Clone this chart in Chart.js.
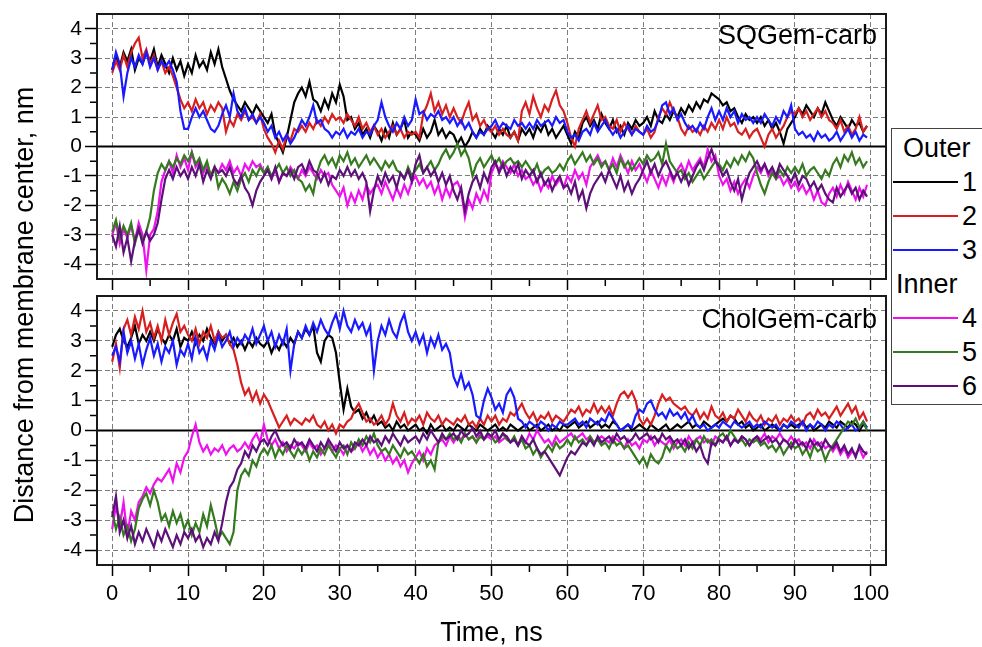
<!DOCTYPE html>
<html><head><meta charset="utf-8">
<script src="https://cdn.jsdelivr.net/npm/chart.js@4.4.1/dist/chart.umd.min.js"></script>
<style>
html,body{margin:0;padding:0;background:#fff;}
body{width:982px;height:647px;overflow:hidden;position:relative;font-family:"Liberation Sans",Arial,sans-serif;color:#000;}
#c1{position:absolute;left:0;top:0;}
#c2{position:absolute;left:0;top:292px;}
#ytitle{position:absolute;left:-276px;top:289px;width:600px;height:32px;line-height:32px;text-align:center;font-size:27px;transform:rotate(-90deg);white-space:nowrap;}
#legend{position:absolute;left:891px;top:128px;width:120px;height:277px;border:1.5px solid #444;box-sizing:border-box;background:#fff;}
.lg-h{position:absolute;font-size:27px;line-height:30px;white-space:nowrap;}
.lg-line{position:absolute;left:1px;width:65px;height:2px;}
.lg-num{position:absolute;left:70px;font-size:27px;line-height:30px;}
</style></head>
<body>
<canvas id="c1" width="982" height="292"></canvas>
<canvas id="c2" width="982" height="355"></canvas>
<div id="ytitle">Distance from membrane center, nm</div>
<div id="legend"></div>
<script>
// ---------- data ----------
const TIME_STEP = 0.5;            // ns between samples
const X_MIN = -2, X_MAX = 102;
const Y_MIN = -4.5, Y_MAX = 4.5;
const xTickValues = [0,10,20,30,40,50,60,70,80,90,100];
const xMinorTicks = [5,15,25,35,45,55,65,75,85,95];
const yTickValues = [-4,-3,-2,-1,0,1,2,3,4];
const yMinorTicks = [-3.5,-2.5,-1.5,-0.5,0.5,1.5,2.5,3.5];
const xTitle = 'Time, ns';
const yTitle = 'Distance from membrane center, nm';
const panelLabels = ['SQGem-carb','CholGem-carb'];
const seriesNames = ['1','2','3','4','5','6'];
const seriesColors = ['#000000','#d81f1f','#1a1aff','#ee11ee','#357a1f','#5c1078'];
const legendGroups = [['Outer',[0,1,2]],['Inner',[3,4,5]]];

// SQGem-carb panel
const topOuter1 = [
2.6,3.1,2.7,3.2,2.9,3.3,2.6,3.0,2.8,3.2,
2.9,3.3,2.7,3.1,2.8,2.5,3.0,2.6,2.9,2.4,
2.8,2.5,3.1,2.7,2.9,2.6,3.2,2.8,3.3,2.7,
2.3,1.9,1.6,1.4,1.2,1.5,1.3,1.1,1.4,1.2,
1.0,0.8,1.1,0.4,0.1,-0.2,0.3,0.9,1.5,1.8,
2.0,1.7,2.2,1.6,1.5,1.2,1.6,1.3,1.8,1.5,
2.1,1.7,0.9,1.0,0.6,0.8,0.4,0.6,0.3,0.7,
0.5,0.2,0.6,0.3,0.8,0.4,0.6,0.9,0.3,0.5,
0.4,0.2,0.6,0.3,0.5,0.9,0.4,0.6,0.3,0.5,
0.4,0.1,0.3,0.0,0.2,0.5,0.3,0.6,0.4,0.7,
0.5,0.3,0.6,0.4,0.7,0.3,0.5,0.2,0.6,0.4,
0.6,0.3,0.7,0.5,0.8,0.4,0.6,0.3,0.5,0.7,
0.4,0.1,0.5,0.3,0.8,1.0,0.7,0.9,0.6,1.1,
0.8,0.6,0.9,0.5,0.7,0.4,0.8,0.6,0.9,0.7,
0.8,1.0,0.7,1.2,0.9,0.8,1.1,0.9,1.2,1.0,
1.3,1.1,1.4,1.2,1.5,1.3,1.6,1.5,1.8,1.7,
1.6,1.4,1.5,1.2,1.3,1.0,0.8,1.1,0.9,1.0,
0.8,1.0,0.7,0.9,0.6,0.8,0.5,0.1,0.6,0.8,
1.0,1.3,1.1,1.4,1.2,1.0,1.3,1.1,1.5,1.2,
0.9,0.7,1.0,0.8,0.6,0.9,0.7,0.8,0.5,0.7];
const topOuter2 = [
2.5,2.9,2.6,3.1,2.7,3.2,3.5,3.7,3.0,3.3,
2.8,3.1,2.6,2.9,2.5,2.7,2.4,2.0,1.6,1.3,
1.5,1.2,1.6,1.3,1.5,1.1,1.4,1.2,1.5,1.3,
0.5,0.9,0.7,1.1,0.9,1.2,0.9,1.0,0.8,1.1,
0.6,0.3,0.1,-0.2,0.2,-0.1,0.4,0.2,0.6,0.5,
0.7,0.5,0.8,0.6,0.9,0.7,1.0,0.8,1.1,0.9,
1.0,0.8,1.1,0.9,0.7,1.0,0.6,0.8,0.5,0.7,
0.4,0.6,0.3,0.5,0.7,0.4,0.6,0.3,0.5,0.4,
0.5,0.3,1.1,1.4,1.8,1.2,1.5,1.1,1.4,1.0,
1.3,1.0,0.8,1.2,1.5,0.9,1.1,0.7,0.9,0.6,
0.5,0.7,0.4,0.6,0.4,0.3,0.5,0.2,1.2,1.5,
1.1,1.7,1.3,1.0,1.4,1.2,1.6,1.9,1.4,1.2,
0.8,0.3,0.0,0.6,0.9,1.2,0.8,1.1,1.4,0.9,
1.0,0.7,0.6,0.9,0.5,0.8,0.6,0.4,0.7,0.5,
0.4,0.6,0.3,0.5,1.0,1.3,1.1,1.5,1.2,1.0,
0.6,0.4,0.7,0.5,0.6,0.4,0.7,0.5,0.8,0.6,
0.9,0.6,1.0,0.7,0.8,0.5,0.4,0.6,0.3,0.5,
0.6,0.3,0.0,0.4,0.6,0.3,0.5,0.7,1.0,1.2,
1.1,1.3,1.0,1.2,0.9,1.1,1.3,1.0,1.2,0.9,
0.8,0.6,0.9,0.5,0.7,0.4,0.6,1.0,0.5,0.7];
const topOuter3 = [
2.6,3.2,2.8,1.7,2.5,3.0,2.7,3.1,2.8,3.2,
2.7,3.0,2.6,2.9,2.7,2.9,2.6,2.2,1.2,0.6,
0.6,1.0,1.3,1.0,1.2,0.9,0.6,0.5,0.7,1.1,
1.4,1.0,1.8,1.2,1.0,1.3,0.9,1.1,0.8,1.0,
0.8,0.5,0.7,0.3,0.5,0.2,0.4,0.1,0.3,0.6,
0.9,0.7,1.0,1.4,0.8,0.9,0.6,0.5,0.3,0.5,
0.4,0.6,0.3,0.5,0.4,0.6,0.3,0.5,0.4,0.7,
0.9,1.5,1.0,0.7,0.5,0.8,0.6,1.0,0.7,0.9,
1.6,1.1,1.2,0.9,1.1,1.0,1.2,0.9,1.0,0.8,
1.0,0.7,0.9,0.6,0.8,0.5,0.3,0.5,0.4,0.6,
0.7,0.9,0.6,0.8,0.7,0.6,0.9,0.7,0.8,0.6,
0.8,0.6,0.9,0.7,0.8,0.9,0.7,1.0,0.8,0.9,
0.5,0.3,0.4,0.2,0.5,0.6,0.4,0.8,0.5,0.7,
0.9,0.6,0.4,0.6,0.3,0.5,0.7,0.4,0.6,0.5,
0.4,0.7,0.5,0.6,0.9,1.4,1.5,1.1,1.3,0.9,
1.1,0.8,0.6,0.7,0.5,0.8,0.6,1.0,1.3,0.9,
1.2,0.9,1.3,1.0,1.2,0.8,1.1,0.9,1.0,0.8,
1.0,0.8,1.1,0.9,0.7,1.0,0.8,1.2,1.0,1.4,
0.6,0.4,0.5,0.3,0.4,0.2,0.5,0.3,0.4,0.2,
0.3,0.5,0.2,0.4,0.6,0.3,0.5,0.2,0.4,0.3];
const topInner4 = [
-3.0,-2.6,-3.3,-2.8,-3.1,-2.7,-3.2,-2.6,-3.0,-4.2,
-3.0,-2.8,-2.2,-1.2,-0.8,-0.5,-0.9,-0.3,-0.7,-0.4,
-0.8,-0.2,-0.7,-0.5,-0.9,-0.6,-1.0,-0.7,-0.9,-0.6,
-0.8,-0.5,-0.9,-0.7,-1.0,-0.6,-0.8,-0.5,-0.7,-0.6,
-0.9,-0.7,-1.1,-0.8,-1.2,-0.9,-1.0,-0.7,-0.9,-1.1,
-0.8,-1.0,-0.7,-0.9,-1.1,-0.8,-1.0,-0.9,-1.3,-1.5,
-1.7,-1.4,-2.0,-1.6,-1.9,-1.5,-1.8,-1.3,-1.6,-1.4,
-1.3,-1.6,-1.2,-1.5,-1.8,-1.4,-1.7,-1.3,-1.6,-1.2,
-1.0,-1.3,-1.1,-1.4,-1.2,-1.6,-1.3,-1.8,-1.4,-1.7,
-1.3,-1.2,-1.5,-2.4,-1.8,-2.1,-1.6,-1.9,-1.5,-1.8,
-0.9,-0.6,-0.8,-0.5,-0.7,-0.9,-0.6,-1.0,-0.8,-1.1,
-1.0,-1.3,-1.1,-1.5,-1.2,-1.4,-1.0,-1.3,-1.1,-1.4,
-1.0,-1.2,-0.8,-1.1,-0.9,-1.3,-0.7,-0.5,-0.3,-0.6,
-0.5,-0.8,-0.4,-0.7,-0.3,-0.6,-0.9,-0.5,-0.8,-0.6,
-0.9,-1.2,-0.8,-1.1,-1.4,-1.0,-1.3,-0.9,-1.2,-0.8,
-0.6,-0.9,-0.5,-0.8,-0.6,-0.4,-0.7,-0.1,-0.5,-0.3,
-1.0,-1.3,-1.1,-1.5,-1.2,-1.6,-1.3,-1.1,-1.4,-1.0,
-0.7,-0.9,-0.6,-1.0,-0.8,-1.1,-1.0,-1.3,-1.1,-1.4,
-1.2,-1.5,-1.3,-1.6,-1.4,-1.8,-1.5,-1.9,-2.0,-1.6,
-1.4,-1.7,-1.3,-1.6,-1.2,-1.5,-1.8,-1.4,-1.7,-1.3];
const topInner5 = [
-2.9,-2.5,-3.1,-2.7,-3.0,-2.6,-3.3,-2.8,-3.2,-2.9,
-2.4,-1.5,-0.9,-0.6,-0.8,-0.5,-0.7,-0.4,-0.6,-0.3,
-0.5,-0.2,-0.6,-0.4,-0.8,-0.5,-1.0,-0.7,-1.4,-1.1,
-1.3,-1.6,-1.2,-1.5,-1.1,-0.9,-1.2,-0.8,-1.0,-0.7,
-0.9,-0.7,-1.0,-0.8,-0.6,-0.9,-0.7,-1.0,-0.8,-1.1,
-1.2,-1.5,-1.3,-1.6,-0.9,-0.5,-0.3,-0.6,-0.4,-0.7,
-0.3,-0.5,-0.2,-0.6,-0.4,-0.7,-0.5,-0.3,-0.6,-0.4,
-0.6,-0.8,-0.5,-0.7,-0.5,-0.8,-0.9,-1.1,-0.7,-1.0,
-0.8,-0.6,-0.9,-0.7,-0.5,-0.8,-0.6,-0.3,-0.1,-0.4,
-0.2,0.1,-0.3,-0.1,-0.4,-1.0,-0.6,-0.4,-0.7,-0.5,
-0.3,-0.6,-0.4,-0.7,-0.5,-0.4,-0.6,-0.5,-0.7,-0.5,
-0.7,-0.9,-0.6,-1.0,-0.8,-0.7,-0.9,-0.8,-0.6,-0.8,
-0.5,-0.3,-0.6,-0.4,-0.2,-0.5,-0.3,-0.6,-0.4,-0.7,
-0.5,-0.8,-0.6,-0.9,-0.4,-0.7,-0.5,-0.8,-0.6,-0.4,
-0.6,-0.3,-0.5,-0.4,-0.2,-0.6,0.1,-0.5,-0.7,-0.9,
-0.8,-1.1,-0.9,-1.2,-1.0,-0.8,-1.1,-0.9,-0.7,-0.5,
-0.6,-0.8,-0.5,-0.7,-0.4,-0.6,-0.3,-0.5,-0.2,-0.4,
-0.9,-1.3,-1.6,-1.2,-0.9,-1.1,-0.8,-1.0,-0.7,-0.9,
-0.7,-0.9,-0.6,-1.0,-0.8,-0.7,-0.9,-1.1,-0.8,-1.0,
-0.6,-0.4,-0.7,-0.3,-0.5,-0.2,-0.6,-0.4,-0.7,-0.5];
const topInner6 = [
-3.0,-3.4,-2.7,-3.6,-3.1,-3.9,-3.2,-2.8,-3.3,-2.9,
-3.2,-3.0,-2.6,-1.8,-1.1,-0.8,-1.1,-0.7,-1.0,-0.8,
-1.1,-0.7,-1.0,-0.6,-1.2,-0.8,-1.1,-0.7,-0.9,-0.8,
-1.0,-0.7,-1.1,-1.3,-1.0,-1.4,-1.6,-2.0,-1.5,-1.2,
-1.0,-0.8,-1.1,-0.7,-1.2,-0.9,-1.0,-0.8,-1.1,-0.7,
-0.6,-0.9,-0.5,-0.8,-0.9,-1.2,-0.9,-1.3,-1.0,-1.1,
-0.8,-1.0,-0.7,-1.0,-0.8,-1.1,-0.9,-1.2,-2.2,-1.5,
-1.0,-1.3,-0.9,-1.2,-1.0,-1.4,-0.9,-1.1,-0.8,-1.2,
-0.6,-0.3,-0.9,-0.7,-1.0,-0.8,-1.2,-0.9,-1.3,-1.0,
-1.5,-1.8,-1.4,-2.2,-1.6,-1.2,-1.0,-1.4,-0.9,-1.2,
-0.7,-0.5,-0.9,-0.6,-1.0,-0.7,-0.9,-0.6,-1.1,-0.8,
-1.0,-0.8,-1.2,-0.9,-1.3,-1.1,-1.5,-1.2,-1.0,-1.4,
-1.3,-1.6,-1.2,-1.8,-1.5,-2.1,-1.6,-1.3,-1.1,-0.9,
-1.2,-0.8,-1.1,-1.4,-1.0,-1.5,-1.2,-1.6,-1.3,-1.1,
-0.8,-0.5,-0.9,-0.6,-1.0,-0.7,-0.5,-0.8,-1.1,-0.9,
-1.2,-0.9,-1.3,-1.0,-0.7,-0.5,-0.8,-0.4,-0.1,-0.5,
-0.7,-1.0,-0.8,-1.2,-1.5,-1.1,-1.8,-1.3,-0.9,-0.7,
-0.5,-0.8,-0.6,-0.9,-0.7,-1.0,-0.6,-0.8,-1.0,-1.2,
-0.9,-1.3,-1.0,-1.1,-1.4,-1.2,-1.5,-1.3,-1.6,-1.8,
-1.9,-1.4,-1.7,-1.5,-1.3,-1.6,-1.4,-1.8,-1.5,-1.7];

// CholGem-carb panel
const botOuter1 = [
2.8,3.2,3.4,3.0,2.8,3.1,3.5,2.9,3.2,3.0,
3.3,3.0,3.4,3.1,2.9,3.2,3.0,3.4,2.8,3.1,
3.0,3.3,2.9,3.2,3.0,3.4,3.1,2.9,3.3,3.0,
3.2,2.9,3.1,2.8,3.0,2.7,3.0,2.8,3.1,2.9,
2.8,3.0,2.6,2.9,2.7,3.0,2.8,3.1,2.9,3.3,
3.1,3.4,3.2,3.5,2.6,2.3,3.0,3.2,3.1,2.6,
1.6,0.7,1.4,0.8,0.6,0.7,0.4,0.6,0.3,0.5,
0.2,0.3,0.1,0.2,0.0,0.3,0.1,0.2,0.0,0.1,
0.2,0.0,0.1,-0.1,0.2,0.0,0.1,0.2,0.0,0.1,
0.0,0.2,0.1,0.0,0.2,0.1,0.0,0.2,0.1,0.0,
0.1,0.2,0.0,0.1,0.0,0.2,0.1,0.0,0.1,0.2,
0.0,0.1,0.2,0.0,0.1,0.2,0.0,0.1,0.0,0.2,
0.1,0.2,0.3,0.1,0.2,0.3,0.1,0.2,0.3,0.1,
0.2,0.1,0.3,0.2,0.0,0.1,0.2,0.0,0.1,0.2,
0.1,0.0,0.2,0.1,0.0,0.1,0.2,0.0,0.1,0.2,
0.1,0.2,0.3,0.1,0.2,0.1,0.3,0.2,0.1,0.2,
0.3,0.4,0.3,0.5,0.4,0.2,0.3,0.1,0.2,0.0,
0.1,0.2,0.0,0.1,0.2,0.1,0.0,0.2,0.1,0.2,
0.1,0.2,0.3,0.1,0.2,0.0,0.1,0.2,0.1,0.3,
0.2,0.1,0.3,0.2,0.1,0.3,0.2,0.0,0.2,0.1];
const botOuter2 = [
2.3,2.9,2.1,3.4,3.7,3.2,3.8,3.4,4.0,3.3,
3.6,3.1,3.5,3.0,3.7,3.2,3.6,3.9,3.3,3.5,
3.2,3.0,3.4,2.9,3.3,3.1,3.5,3.0,3.3,3.1,
3.2,2.9,2.7,2.2,1.6,1.2,1.4,1.0,1.3,0.9,
1.2,1.0,0.7,0.4,0.1,0.3,0.5,0.2,0.4,0.3,
0.2,0.4,0.3,0.5,0.2,0.1,0.3,0.0,0.2,-0.1,
0.2,0.1,0.3,0.4,0.7,0.9,0.6,0.3,0.4,0.2,
0.3,0.5,0.2,0.4,0.9,0.5,0.3,0.6,0.2,0.4,
0.3,0.5,0.2,0.6,0.4,0.3,0.5,0.2,0.4,0.3,
0.2,0.4,0.3,0.5,0.2,0.3,0.1,0.4,0.2,0.5,
0.3,0.5,0.2,0.4,0.3,0.6,0.5,0.7,0.9,0.6,
0.4,0.6,0.3,0.5,0.4,0.6,0.3,0.5,0.4,0.3,
0.5,0.7,0.6,0.8,0.5,0.7,0.6,0.9,0.6,0.8,
0.6,0.8,0.5,0.9,1.2,1.3,1.1,1.3,1.0,0.4,
0.2,0.4,0.2,0.5,0.9,1.2,1.0,1.1,0.9,0.8,
0.7,0.8,0.6,0.5,0.7,0.4,0.6,0.4,0.8,0.5,
0.4,0.6,0.3,0.5,0.4,0.7,0.5,0.3,0.6,0.4,
0.3,0.5,0.2,0.4,0.3,0.5,0.2,0.4,0.3,0.5,
0.3,0.4,0.2,0.5,0.6,0.4,0.7,0.5,0.6,0.4,
0.6,0.8,0.5,0.7,0.9,0.6,0.8,0.4,0.6,0.3];
const botOuter3 = [
2.5,2.8,2.3,3.3,2.6,3.0,2.4,2.9,2.2,2.7,
3.1,2.5,2.9,2.3,2.8,2.6,3.0,2.2,2.7,2.5,
2.9,2.4,3.1,2.6,2.8,2.4,3.0,2.7,3.2,2.8,
3.0,3.3,2.8,3.1,2.9,3.2,3.0,3.4,2.9,3.2,
3.5,3.0,3.3,2.8,3.2,2.9,3.4,2.0,2.9,3.3,
3.1,3.5,3.2,3.6,3.3,3.7,3.4,3.2,3.6,3.9,
3.4,4.0,3.5,3.3,3.7,3.4,3.6,3.2,3.5,2.0,
3.0,3.5,3.2,3.7,3.3,3.1,3.6,3.9,3.3,3.0,
3.3,2.9,3.2,2.6,3.1,2.8,3.2,2.7,2.9,2.6,
1.8,1.5,1.9,1.4,1.6,1.2,0.5,0.4,1.0,1.4,
1.1,0.7,0.9,0.6,1.2,1.4,1.1,0.4,0.3,0.1,
0.3,0.2,0.1,0.3,0.2,0.0,0.2,0.1,0.3,0.2,
0.2,0.3,0.4,0.2,0.3,0.1,0.4,0.3,0.2,0.4,
0.3,0.6,0.4,0.2,0.0,0.1,0.2,0.1,0.5,0.7,
0.6,0.9,1.0,0.7,0.5,0.6,0.4,0.7,0.5,0.6,
0.4,0.6,0.3,0.5,0.2,0.1,0.2,0.0,0.1,0.2,
0.1,0.3,0.2,0.1,0.3,0.2,0.1,0.2,0.3,0.1,
0.2,0.1,0.3,0.2,0.1,0.2,0.0,0.2,0.1,0.3,
0.2,0.1,0.3,0.0,0.2,0.1,0.3,0.2,0.0,0.2,
0.1,0.3,0.2,0.0,0.1,0.2,0.0,0.1,0.3,0.1];
const botInner4 = [
-3.3,-2.5,-3.2,-2.4,-3.5,-2.7,-3.0,-2.4,-2.2,-1.9,
-2.1,-1.8,-1.6,-1.7,-1.5,-1.3,-1.7,-1.1,-1.4,-0.9,
-0.7,-0.2,0.2,-0.4,-0.7,-0.5,-0.8,-0.6,-0.7,-0.5,
-0.8,-0.6,-0.5,-0.7,-0.6,-0.4,-0.6,-0.3,-0.1,-0.4,
0.2,-0.3,-0.5,-0.3,-0.6,-0.4,-0.7,-0.5,-0.6,-0.4,
-0.5,-0.7,-0.4,-0.6,-0.5,-0.8,-0.6,-0.4,-0.7,-0.5,
-0.6,-0.8,-0.5,-0.7,-0.6,-0.4,-0.7,-0.5,-0.8,-0.6,
-0.9,-0.7,-1.0,-0.8,-1.1,-0.9,-1.2,-1.0,-1.4,-1.1,
-0.9,-0.7,-1.0,-0.6,-0.8,-0.5,-0.4,-0.3,-0.5,-0.2,
-0.4,-0.2,-0.3,-0.1,-0.3,-0.2,-0.4,-0.1,-0.3,-0.2,
-0.3,-0.2,-0.4,-0.3,-0.2,-0.4,-0.3,-0.5,-0.2,-0.4,
-0.1,-0.3,0.0,-0.2,-0.4,-0.3,-0.5,-0.2,-0.4,-0.3,
-0.2,-0.1,-0.3,-0.2,-0.1,-0.3,-0.2,-0.4,-0.3,-0.2,
-0.3,-0.4,-0.2,-0.3,-0.4,-0.6,-0.3,-0.5,-0.4,-0.6,
-0.3,-0.4,-0.2,-0.5,-0.3,-0.4,-0.5,-0.3,-0.6,-0.4,
-0.3,-0.5,-0.2,-0.4,-0.3,-0.2,-0.4,-0.3,-0.5,-0.2,
-0.3,-0.4,-0.2,-0.5,-0.3,-0.4,-0.2,-0.3,-0.5,-0.3,
-0.2,-0.3,-0.1,-0.4,-0.2,-0.3,-0.1,-0.3,-0.4,-0.2,
-0.4,-0.3,-0.5,-0.4,-0.6,-0.3,-0.5,-0.4,-0.6,-0.5,
-0.7,-0.5,-0.8,-0.6,-0.9,-0.7,-0.8,-0.6,-0.9,-0.7];
const botInner5 = [
-2.7,-3.3,-2.9,-3.5,-3.2,-3.7,-3.3,-2.6,-2.3,-2.1,
-2.5,-2.0,-2.4,-3.0,-2.8,-3.2,-2.7,-3.1,-2.8,-3.3,
-3.0,-3.5,-3.1,-3.4,-2.8,-3.2,-2.5,-3.0,-3.6,-3.4,
-3.6,-3.8,-3.4,-2.0,-1.5,-1.3,-1.5,-1.0,-1.2,-0.8,
-0.6,-0.8,-0.5,-0.9,-0.6,-0.8,-0.5,-0.7,-0.9,-0.6,
-0.8,-0.6,-1.0,-0.7,-0.9,-0.6,-0.8,-0.5,-0.7,-0.9,
-0.6,-0.5,-0.8,-0.4,-0.6,-0.3,-0.5,-0.2,-0.4,-0.1,
-0.5,-0.7,-0.6,-0.8,-0.5,-0.7,-0.9,-0.6,-0.8,-0.7,
-0.9,-1.1,-0.8,-1.2,-1.0,-1.3,-0.4,-0.2,-0.3,-0.1,
-0.3,-0.2,-0.4,-0.1,-0.3,-0.2,-0.4,-0.2,-0.3,-0.1,
-0.2,-0.4,-0.3,-0.1,-0.3,-0.4,-0.2,-0.5,-0.3,-0.6,
-0.5,-0.8,-0.6,-0.9,-0.7,-0.5,-0.7,-0.4,-0.6,-0.5,
-0.3,-0.5,-0.2,-0.4,-0.3,-0.5,-0.2,-0.4,-0.3,-0.5,
-0.4,-0.6,-0.3,-0.5,-0.4,-0.6,-0.5,-0.7,-0.9,-1.1,
-0.9,-1.2,-0.8,-1.0,-1.1,-0.9,-0.5,-0.7,-0.4,-0.6,
-0.5,-0.7,-0.4,-0.6,-0.3,-0.5,-0.2,-0.4,-0.3,-0.5,
-0.2,-0.1,-0.3,0.0,-0.2,-0.4,-0.3,-0.5,-0.3,-0.4,
-0.3,-0.5,-0.4,-0.6,-0.5,-0.7,-0.5,-0.8,-0.6,-0.4,
-0.6,-0.5,-0.8,-0.6,-0.9,-0.5,-0.7,-0.6,-1.0,-0.7,
-0.5,-0.3,-0.1,0.1,0.3,0.2,0.4,0.1,0.3,0.0];
const botInner6 = [
-2.9,-2.2,-3.4,-3.0,-3.6,-3.2,-3.8,-3.4,-3.7,-3.3,
-3.6,-3.9,-3.4,-3.7,-3.3,-3.6,-3.9,-3.5,-3.8,-3.4,
-3.6,-3.3,-3.7,-3.5,-3.9,-3.6,-3.8,-3.4,-3.7,-3.1,
-2.4,-1.9,-1.7,-1.3,-1.1,-0.7,-0.9,-0.5,-0.7,-0.4,
-0.3,-0.5,-0.2,0.0,-0.3,-0.5,-0.4,-0.6,-0.3,-0.5,
-0.4,-0.6,-0.3,-0.5,-0.7,-0.4,-0.6,-0.3,-0.5,-0.7,
-0.4,-0.6,-0.5,-0.7,-0.4,-0.5,-0.3,-0.5,-0.2,-0.4,
-0.3,-0.5,-0.2,-0.4,-0.1,-0.3,-0.5,-0.2,-0.4,-0.3,
-0.2,-0.4,-0.1,-0.3,0.0,-0.2,-0.4,-0.1,-0.3,-0.2,
-0.1,-0.3,0.0,-0.2,-0.1,0.1,-0.2,0.0,-0.3,-0.1,
-0.2,0.0,-0.3,-0.1,-0.2,-0.4,-0.3,-0.5,-0.2,-0.4,
-0.5,-0.3,-0.6,-0.8,-0.7,-0.9,-1.1,-1.3,-1.5,-1.2,
-0.9,-0.7,-0.8,-0.6,-0.4,-0.5,-0.3,-0.5,-0.2,-0.4,
-0.3,-0.2,-0.4,-0.1,-0.3,-0.2,-0.4,-0.3,-0.1,-0.3,
-0.2,-0.1,-0.3,-0.2,-0.4,-0.1,-0.3,-0.2,-0.4,-0.3,
-0.5,-0.3,-0.6,-0.4,-0.7,-0.5,-0.9,-1.1,-0.4,-0.5,
-0.3,-0.4,-0.2,-0.5,-0.3,-0.4,-0.2,-0.3,-0.5,-0.3,
-0.2,-0.4,-0.3,-0.2,-0.4,-0.3,-0.5,-0.3,-0.4,-0.6,
-0.3,-0.5,-0.4,-0.6,-0.3,-0.5,-0.4,-0.6,-0.3,-0.5,
-0.6,-0.4,-0.7,-0.5,-0.8,-0.6,-0.9,-0.5,-0.7,-0.8];

const topSeries = [topOuter1, topOuter2, topOuter3, topInner4, topInner5, topInner6];
const botSeries = [botOuter1, botOuter2, botOuter3, botInner4, botInner5, botInner6];

// ---------- drawing ----------
const FONT = '"Liberation Sans", Arial, Helvetica, sans-serif';
Chart.defaults.font.family = FONT;
Chart.defaults.color = '#000';

const panelFrame = {
  id: 'panelFrame',
  afterDatasetsDraw(chart, args, opts) {
    const {ctx, chartArea: a} = chart;
    const xs = chart.scales.x, ys = chart.scales.y;
    ctx.save();
    ctx.lineWidth = 1.5; ctx.strokeStyle = '#000';
    ctx.beginPath();
    xMinorTicks.forEach(v => { const p = xs.getPixelForValue(v); ctx.moveTo(p, a.bottom); ctx.lineTo(p, a.bottom + 7); });
    yMinorTicks.forEach(v => { const p = ys.getPixelForValue(v); ctx.moveTo(a.left, p); ctx.lineTo(a.left - 7, p); });
    ctx.stroke();
    ctx.lineWidth = 2; ctx.strokeStyle = '#1a1a1a';
    ctx.strokeRect(a.left, a.top, a.right - a.left, a.bottom - a.top);
    ctx.fillStyle = '#000';
    ctx.font = '27px ' + FONT;
    ctx.textAlign = 'right'; ctx.textBaseline = 'middle';
    ctx.fillText(opts.text, a.right - 9, a.top + opts.dy);
    ctx.restore();
  }
};

function makeChart(canvas, series, label, isBottom) {
  const datasets = series.map((arr, i) => ({
    label: seriesNames[i],
    data: arr.map((v, k) => ({x: k * TIME_STEP, y: v})),
    borderColor: seriesColors[i],
    backgroundColor: seriesColors[i],
    borderWidth: 2.2,
    pointRadius: 0,
    tension: 0,
    fill: false,
    order: series.length - i
  }));
  datasets.push({
    label: 'zero',
    data: [{x: X_MIN, y: 0}, {x: X_MAX, y: 0}],
    borderColor: '#000', borderWidth: 1.8, pointRadius: 0, order: 20
  });
  return new Chart(canvas, {
    type: 'line',
    data: {datasets},
    options: {
      responsive: false, animation: false, devicePixelRatio: 1, events: [],
      layout: {padding: {top: isBottom ? 4 : 14, right: 96, bottom: 0, left: 0}},
      plugins: {
        legend: {display: false}, tooltip: {enabled: false},
        panelFrame: {text: label, dy: isBottom ? 25 : 23}
      },
      scales: {
        x: {
          type: 'linear', min: X_MIN, max: X_MAX,
          afterBuildTicks: s => { s.ticks = xTickValues.map(v => ({value: v})); },
          afterFit: s => { s.height = isBottom ? 82 : 13; s.paddingLeft = 0; s.paddingRight = 0; },
          grid: {color: '#7c7c7c', lineWidth: 1, tickLength: 11, tickColor: '#000', tickWidth: 1.5},
          border: {display: false, dash: [5, 3]},
          ticks: {display: isBottom, font: {size: 22}, color: '#000', padding: 5, maxRotation: 0, autoSkip: false},
          title: {display: isBottom, text: xTitle, font: {size: 27, lineHeight: 1}, color: '#000', padding: {top: 0, bottom: 0}}
        },
        y: {
          min: Y_MIN, max: Y_MAX,
          afterBuildTicks: s => { s.ticks = yTickValues.map(v => ({value: v})); },
          afterFit: s => { s.width = 97; s.paddingTop = 0; s.paddingBottom = 0; },
          grid: {color: '#7c7c7c', lineWidth: 1, tickLength: 12, tickColor: '#000', tickWidth: 1.5},
          border: {display: false, dash: [5, 3]},
          ticks: {font: {size: 21}, color: '#000', padding: 3, autoSkip: false}
        }
      }
    },
    plugins: [panelFrame]
  });
}

makeChart(document.getElementById('c1'), topSeries, panelLabels[0], false);
makeChart(document.getElementById('c2'), botSeries, panelLabels[1], true);

document.getElementById('ytitle').textContent = yTitle;

// legend
const lg = document.getElementById('legend');
let row = 0;
legendGroups.forEach(([head, idxs], g) => {
  const h = document.createElement('div');
  h.className = 'lg-h';
  h.textContent = head;
  h.style.left = (g === 0 ? 11 : 4) + 'px';
  h.style.top = (20 + 34 * row - 16) + 'px';
  lg.appendChild(h);
  row++;
  idxs.forEach(i => {
    const cy = 20 + 34 * row - 1.5;
    const ln = document.createElement('div');
    ln.className = 'lg-line';
    ln.style.background = seriesColors[i];
    ln.style.top = (cy - 1) + 'px';
    lg.appendChild(ln);
    const n = document.createElement('div');
    n.className = 'lg-num';
    n.textContent = seriesNames[i];
    n.style.top = (cy - 15) + 'px';
    lg.appendChild(n);
    row++;
  });
});
</script>
</body></html>
